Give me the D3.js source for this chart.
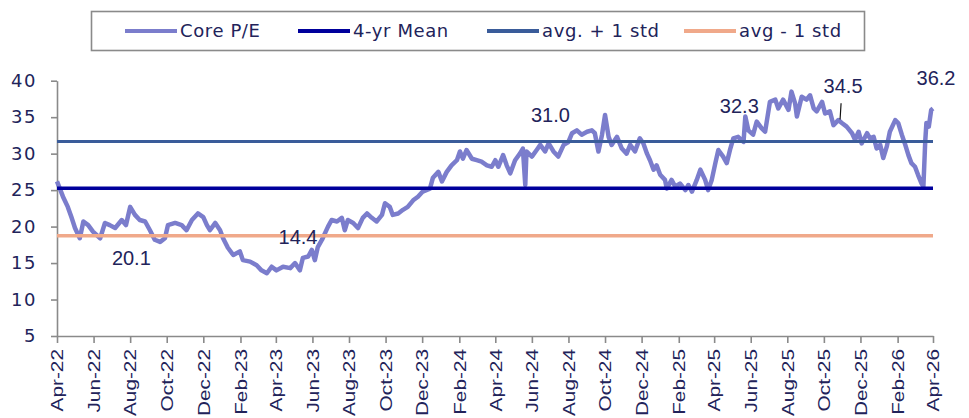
<!DOCTYPE html>
<html>
<head>
<meta charset="utf-8">
<script src="https://cdn.jsdelivr.net/npm/d3@7"></script>
<style>
  body { margin: 0; background: #fff; }
  svg text { fill: #22235a; }
</style>
</head>
<body>
<div id="chart"></div>
<script>

// Core P/E readings (roughly weekly)
var dates = [
  "2022-04-01","2022-04-11","2022-04-19","2022-04-25","2022-05-01","2022-05-09","2022-05-15","2022-05-23","2022-05-31","2022-06-12",
  "2022-06-20","2022-06-28","2022-07-07","2022-07-18","2022-07-25","2022-08-01","2022-08-09","2022-08-17","2022-08-26","2022-09-03",
  "2022-09-11","2022-09-20","2022-09-28","2022-10-03","2022-10-15","2022-10-26","2022-11-03","2022-11-12","2022-11-22","2022-12-01",
  "2022-12-07","2022-12-12","2022-12-21","2022-12-29","2023-01-03","2023-01-11","2023-01-20","2023-01-31","2023-02-05","2023-02-17",
  "2023-02-28","2023-03-08","2023-03-17","2023-03-25","2023-04-02","2023-04-13","2023-04-25","2023-05-03","2023-05-11","2023-05-16",
  "2023-05-25","2023-05-31","2023-06-05","2023-06-10","2023-06-17","2023-06-22","2023-06-27","2023-07-03","2023-07-12","2023-07-20",
  "2023-07-25","2023-07-30","2023-08-08","2023-08-16","2023-08-24","2023-08-31","2023-09-08","2023-09-16","2023-09-25","2023-09-30",
  "2023-10-08","2023-10-13","2023-10-22","2023-10-30","2023-11-07","2023-11-16","2023-11-24","2023-12-02","2023-12-14","2023-12-19",
  "2023-12-28","2024-01-03","2024-01-11","2024-01-19","2024-01-28","2024-02-02","2024-02-07","2024-02-13","2024-02-22","2024-03-01",
  "2024-03-09","2024-03-18","2024-03-26","2024-04-01","2024-04-06","2024-04-14","2024-04-20","2024-04-26","2024-05-04","2024-05-12",
  "2024-05-17","2024-05-21","2024-05-23","2024-06-01","2024-06-09","2024-06-15","2024-06-23","2024-06-29","2024-07-07","2024-07-15",
  "2024-07-24","2024-08-01","2024-08-07","2024-08-15","2024-08-23","2024-09-01","2024-09-09","2024-09-14","2024-09-20","2024-09-26",
  "2024-10-01","2024-10-07","2024-10-12","2024-10-21","2024-10-29","2024-11-06","2024-11-12","2024-11-20","2024-11-28","2024-12-04",
  "2024-12-10","2024-12-15","2024-12-21","2024-12-26","2025-01-01","2025-01-09","2025-01-12","2025-01-20","2025-01-26","2025-02-03",
  "2025-02-12","2025-02-17","2025-02-23","2025-03-03","2025-03-09","2025-03-17","2025-03-22","2025-03-28","2025-04-03","2025-04-08",
  "2025-04-16","2025-04-22","2025-04-28","2025-05-03","2025-05-11","2025-05-20","2025-05-23","2025-05-28","2025-06-05","2025-06-11",
  "2025-06-19","2025-06-25","2025-07-03","2025-07-12","2025-07-17","2025-07-25","2025-08-03","2025-08-08","2025-08-14","2025-08-17",
  "2025-08-25","2025-09-02","2025-09-08","2025-09-14","2025-09-19","2025-09-28","2025-10-03","2025-10-11","2025-10-17","2025-10-25",
  "2025-10-31","2025-11-08","2025-11-17","2025-11-22","2025-11-28","2025-12-03","2025-12-12","2025-12-17","2025-12-23","2025-12-28",
  "2026-01-03","2026-01-08","2026-01-14","2026-01-19","2026-01-28","2026-02-02","2026-02-08","2026-02-13","2026-02-19","2026-02-24",
  "2026-03-02","2026-03-07","2026-03-13","2026-03-16","2026-03-19","2026-03-21","2026-03-25","2026-03-29","2026-04-01"
];
var corePE = [
  26.2,24.1,22.7,21.3,19.8,18.4,20.7,20.2,19.3,18.4,
  20.5,20.2,19.8,20.9,20.2,22.7,21.6,20.9,20.7,19.5,
  18.2,17.9,18.4,20.2,20.5,20.2,19.5,20.9,21.8,21.3,
  20.2,19.5,20.5,19.5,18.4,17.1,16.1,16.6,15.4,15.2,
  14.7,14.0,13.6,14.5,14.0,14.5,14.3,15.0,14.0,15.7,
  15.9,16.8,15.4,17.2,18.2,19.1,20.0,20.9,20.7,21.2,
  19.5,20.9,20.5,19.8,21.2,21.8,21.2,20.7,21.6,23.2,
  22.7,21.6,21.8,22.3,22.7,23.6,24.1,24.8,25.2,26.7,
  27.5,26.2,27.5,28.4,29.1,30.3,29.3,30.5,29.3,29.1,
  28.9,28.4,28.2,29.1,28.2,29.8,28.4,27.3,29.1,30.0,
  30.7,25.7,30.3,29.6,30.5,31.2,30.3,31.4,30.3,29.6,
  31.2,31.6,32.8,33.2,32.6,33.0,33.2,32.8,30.3,32.6,
  35.3,32.3,31.2,32.3,30.7,30.0,31.2,30.3,32.1,31.4,
  30.0,29.1,27.8,28.4,27.1,26.4,25.2,26.4,25.5,25.9,
  25.0,25.7,24.8,26.4,27.8,26.4,25.0,26.4,28.7,30.5,
  29.6,28.7,30.7,32.1,32.3,31.6,35.1,33.2,32.6,34.4,
  33.5,33.0,37.1,37.4,36.2,37.4,36.0,38.5,36.9,35.1,
  37.8,37.4,38.0,36.2,35.8,37.1,35.5,35.8,33.9,34.6,
  34.2,33.7,32.8,31.9,33.0,31.4,32.8,32.1,32.3,30.7,
  31.2,29.4,31.0,33.0,34.6,34.2,32.6,31.4,29.8,28.7,
  28.2,27.1,25.9,25.5,31.6,34.2,33.7,36.0,36.2
];

var meanPE = 25.25;
var upperPE = 31.65;   // avg. + 1 std
var lowerPE = 18.75;   // avg - 1 std

var yTicks = [5, 10, 15, 20, 25, 30, 35, 40];
var startDate = "2022-04-01", endDate = "2026-04-01";

// value call-outs: text, where it sits (date, value)
var labelTexts  = ["20.1", "14.4", "31.0", "32.3", "34.5", "36.2"];
var labelDates  = ["2022-08-03", "2023-05-08", "2024-07-02", "2025-05-13", "2025-11-02", "2026-04-06"];
var labelValues = [14.75, 17.6, 34.3, 35.6, 38.3, 39.4];
var leaderDate = "2025-10-28", leaderFrom = 36.9, leaderTo = 34.7;

var legendLabels = ["Core P/E", "4-yr Mean", "avg. + 1 std", "avg - 1 std"];
var colors = ["#7b7dcc", "#00009c", "#3a5c9a", "#f0a98a"];

var parse = d3.timeParse("%Y-%m-%d");
var data = dates.map(function(d, i) { return {date: parse(d), value: corePE[i]}; });

var svg = d3.select("#chart")
  .append("svg")
    .attr("width", 969)
    .attr("height", 418);

var x = d3.scaleTime()
  .domain([parse(startDate), parse(endDate)])
  .range([57, 933]);

var y = d3.scaleLinear()
  .domain([5, 40])
  .range([336, 80.7]);

// axes
var xTicks = d3.timeMonth.range(parse(startDate), d3.timeDay.offset(parse(endDate), 1), 2);
var xAxis = svg.append("g")
  .attr("transform", "translate(0,336)")
  .call(d3.axisBottom(x).tickValues(xTicks).tickFormat(d3.timeFormat("%b-%y")).tickSize(7).tickSizeOuter(0));
xAxis.selectAll("text")
  .attr("y", 0)
  .attr("x", -10)
  .attr("dy", "0.36em")
  .attr("text-anchor", "end")
  .attr("transform", "rotate(-90) scale(1.3,1)")
  .style("font-family", "'Liberation Sans', Arial, sans-serif")
  .style("font-size", "16px");

var yAxis = svg.append("g")
  .attr("transform", "translate(57,0)")
  .call(d3.axisLeft(y).tickValues(yTicks).tickSize(6).tickPadding(14).tickSizeOuter(0));
yAxis.selectAll("text")
  .style("font-family", "'DejaVu Sans', sans-serif")
  .style("font-size", "18px")
  .style("letter-spacing", "1.5px");

svg.selectAll(".domain, .tick line")
  .attr("stroke", "#8a8a8a")
  .attr("stroke-width", 1.6);

// core P/E line
svg.append("path")
  .datum(data)
  .attr("fill", "none")
  .attr("stroke", colors[0])
  .attr("stroke-width", 4.5)
  .attr("stroke-linejoin", "round")
  .attr("d", d3.line()
    .x(function(d) { return x(d.date); })
    .y(function(d) { return y(d.value); }));

// mean and +/- 1 std lines
var levels = [meanPE, upperPE, lowerPE];
svg.selectAll(".level")
  .data(levels)
  .enter().append("line")
    .attr("class", "level")
    .attr("x1", x(parse(startDate)))
    .attr("x2", x(parse(endDate)))
    .attr("y1", function(d) { return y(d); })
    .attr("y2", function(d) { return y(d); })
    .attr("stroke", function(d, i) { return colors[i + 1]; })
    .attr("stroke-width", function(d, i) { return i == 1 ? 3 : 3.5; });

// call-outs
svg.selectAll(".callout")
  .data(labelTexts)
  .enter().append("text")
    .attr("class", "callout")
    .attr("x", function(d, i) { return x(parse(labelDates[i])); })
    .attr("y", function(d, i) { return y(labelValues[i]); })
    .attr("text-anchor", "middle")
    .style("font-family", "'Liberation Sans', Arial, sans-serif")
    .style("font-size", "20px")
    .text(function(d) { return d; });

svg.append("line")
  .attr("x1", x(parse(leaderDate)) + 1)
  .attr("x2", x(parse(leaderDate)))
  .attr("y1", y(leaderFrom))
  .attr("y2", y(leaderTo))
  .attr("stroke", "#111")
  .attr("stroke-width", 1.2);

// legend
var legend = svg.append("g");
legend.append("rect")
  .attr("x", 91.5).attr("y", 11.5)
  .attr("width", 773).attr("height", 39)
  .attr("fill", "#fff")
  .attr("stroke", "#8a8a8a")
  .attr("stroke-width", 1.6);

var legendX = [125, 298, 487, 684];
var item = legend.selectAll(".item")
  .data(legendLabels)
  .enter().append("g")
    .attr("class", "item")
    .attr("transform", function(d, i) { return "translate(" + legendX[i] + ",31)"; });
item.append("line")
  .attr("x1", 0).attr("x2", 52)
  .attr("stroke", function(d, i) { return colors[i]; })
  .attr("stroke-width", 4);
item.append("text")
  .attr("x", 55)
  .attr("dy", "0.36em")
  .style("font-family", "'DejaVu Sans', sans-serif")
  .style("font-size", "18px")
  .style("letter-spacing", "0.6px")
  .text(function(d) { return d; });

</script>
</body>
</html>
